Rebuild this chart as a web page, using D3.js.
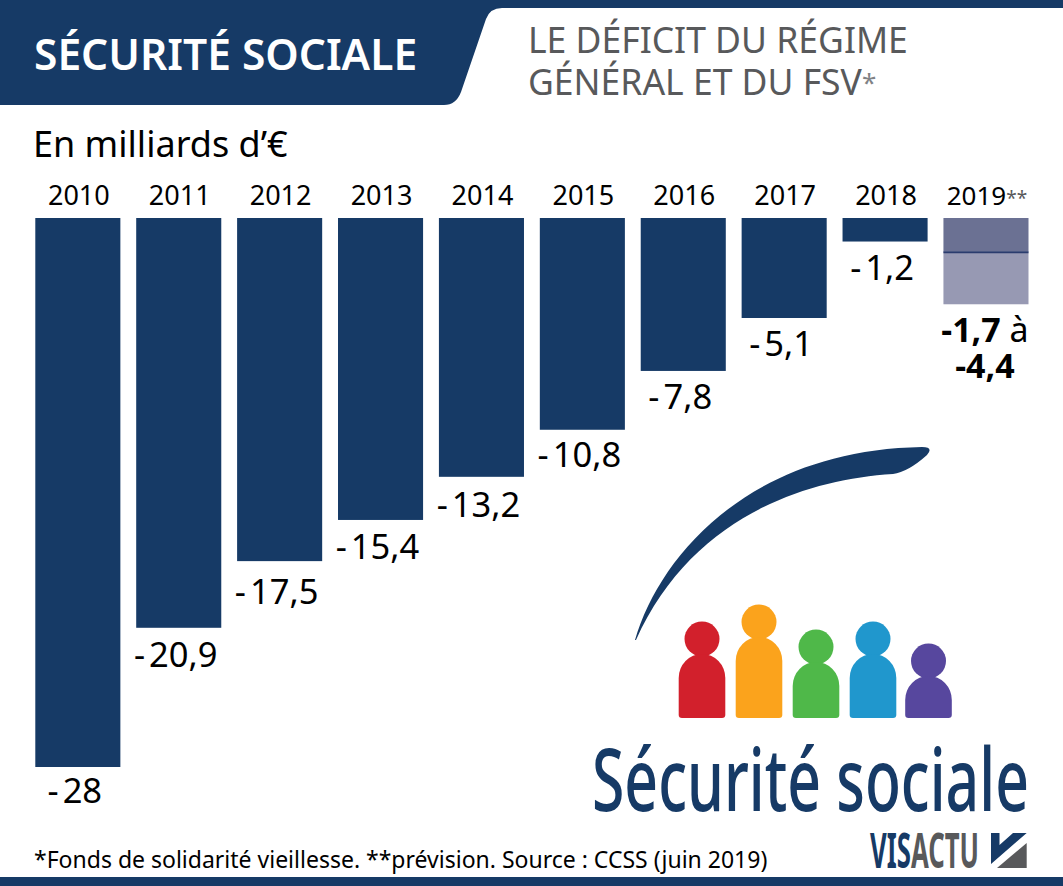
<!DOCTYPE html>
<html>
<head>
<meta charset="utf-8">
<script src="https://cdn.jsdelivr.net/npm/d3@7"></script>
<style>
  html, body { margin: 0; padding: 0; background: #fff; }
  svg { display: block; }
  text { font-family: "Noto Sans", sans-serif; }
</style>
</head>
<body>
<div id="chart"></div>
<script>
const years = ['2010', '2011', '2012', '2013', '2014', '2015', '2016', '2017', '2018'];
const values = [-28, -20.9, -17.5, -15.4, -13.2, -10.8, -7.8, -5.1, -1.2];
const valueLabels = ['28', '20,9', '17,5', '15,4', '13,2', '10,8', '7,8', '5,1', '1,2'];
const forecastYear = '2019';
const forecastLow = -1.7;
const forecastHigh = -4.4;

const navy = '#163a66';
const grey = '#58595b';
const width = 1063, height = 886;

const svg = d3.select('#chart')
  .append('svg')
  .attr('width', width)
  .attr('height', height);

// squeeze a text horizontally to a given width
function fitText(sel, left, baseline, target) {
  const len = sel.node().getComputedTextLength();
  sel.attr('transform', `translate(${left},${baseline}) scale(${target / len},1)`);
}

// header
svg.append('path')
  .attr('fill', navy)
  .attr('d', 'M0,0H1063V8H502Q490,8 486,19L461,92Q456,105 444,105H0Z');

svg.append('text')
  .attr('x', 34).attr('y', 70)
  .attr('fill', '#fff')
  .style('font-size', '42.5px')
  .style('font-weight', 600)
  .text('SÉCURITÉ SOCIALE');

svg.append('text')
  .attr('x', 528).attr('y', 53)
  .attr('fill', grey)
  .style('font-size', '35.5px')
  .text('LE DÉFICIT DU RÉGIME');

const sub2 = svg.append('text')
  .attr('x', 528).attr('y', 95)
  .attr('fill', grey)
  .style('font-size', '35.5px')
  .text('GÉNÉRAL ET DU FSV');
sub2.append('tspan').attr('fill', '#808285').style('font-size', '26px').attr('dy', -3).text('*');

svg.append('text')
  .attr('x', 33).attr('y', 157)
  .attr('fill', '#000')
  .style('font-size', '36px')
  .text('En milliards d’€');

// scales
const x = d3.scaleBand()
  .domain(years.concat(forecastYear))
  .range([35.3, 1028.5])
  .paddingInner(0.157)
  .paddingOuter(0);
const y = d3.scaleLinear().domain([0, -28]).range([218, 767]);

// year labels
const yearLabels = svg.append('g')
  .selectAll('text')
  .data(x.domain())
  .enter().append('text')
  .attr('x', d => x(d) + x.bandwidth() / 2 + 1)
  .attr('y', 205)
  .attr('text-anchor', 'middle')
  .attr('fill', '#000')
  .style('font-size', '27px')
  .text(d => d);
yearLabels.filter(d => d === forecastYear)
  .style('font-size', '26px')
  .append('tspan')
  .attr('fill', grey)
  .style('font-size', '19px')
  .text('**');

// bars
svg.append('g')
  .selectAll('rect')
  .data(years)
  .enter().append('rect')
  .attr('x', d => x(d))
  .attr('y', y(0))
  .attr('width', x.bandwidth())
  .attr('height', (d, i) => y(values[i]) - y(0))
  .attr('fill', navy);

// value labels, hand placed in the original so a few sit a bit off
const labelNudge = [-2, 1, 5, 1, 2, -1, 0, 0, 0];
const labels = svg.append('g')
  .selectAll('text')
  .data(years)
  .enter().append('text')
  .attr('x', d => x(d) + x.bandwidth() / 2 - 3)
  .attr('y', (d, i) => y(values[i]) + 38 + labelNudge[i])
  .attr('text-anchor', 'middle')
  .attr('fill', '#000')
  .style('font-size', '34.5px');
labels.append('tspan').text('-');
labels.append('tspan').attr('dx', 4).text((d, i) => valueLabels[i]);

// 2019 forecast range
const fx = x(forecastYear);
svg.append('rect')
  .attr('x', fx).attr('y', y(0))
  .attr('width', x.bandwidth())
  .attr('height', y(forecastLow) - y(0))
  .attr('fill', '#6b7193');
svg.append('rect')
  .attr('x', fx).attr('y', y(forecastLow))
  .attr('width', x.bandwidth())
  .attr('height', y(forecastHigh) - y(forecastLow))
  .attr('fill', '#9799b3');
svg.append('line')
  .attr('x1', fx).attr('x2', fx + x.bandwidth())
  .attr('y1', y(forecastLow) + 1).attr('y2', y(forecastLow) + 1)
  .attr('stroke', '#2b3c6e')
  .attr('stroke-width', 2);

const fc = fx + x.bandwidth() / 2;
const f1 = svg.append('text')
  .attr('x', fc - 1).attr('y', 342)
  .attr('text-anchor', 'middle')
  .attr('fill', '#000')
  .style('font-size', '34px');
f1.append('tspan').style('font-weight', 700).text(String(forecastLow).replace('.', ','));
f1.append('tspan').text(' à');
svg.append('text')
  .attr('x', fc - 1).attr('y', 378)
  .attr('text-anchor', 'middle')
  .attr('fill', '#000')
  .style('font-size', '34px')
  .style('font-weight', 700)
  .text(String(forecastHigh).replace('.', ','));

// logo: swoosh and people
svg.append('path')
  .attr('fill', navy)
  .attr('d', 'M635,640C660,555 750,450 922,447Q934,447 927,455Q908,472 893,474C800,480 690,520 636,640Z');

const peopleColors = ['#d2202c', '#fba31c', '#4fb849', '#2097cd', '#57479e'];
const peopleHeads = [639, 622, 647, 639, 661];
const peopleCenters = [702, 759, 816, 873, 928.5];

const person = svg.append('g')
  .selectAll('g')
  .data(peopleColors)
  .enter().append('g')
  .attr('fill', d => d);
person.append('circle')
  .attr('cx', (d, i) => peopleCenters[i])
  .attr('cy', (d, i) => peopleHeads[i])
  .attr('r', 17.5);
person.append('path')
  .attr('d', (d, i) => {
    const cx = peopleCenters[i], top = peopleHeads[i] + 15;
    return `M${cx - 23.3},${top + 24}A23.3,24 0 0 1 ${cx + 23.3},${top + 24}` +
      `V715Q${cx + 23.3},718 ${cx + 20},718H${cx - 20}Q${cx - 23.3},718 ${cx - 23.3},715Z`;
  });

svg.append('text')
  .attr('fill', navy)
  .style('font-size', '88px')
  .style('font-weight', 500)
  .text('Sécurité sociale')
  .call(fitText, 592, 811, 437);

// footer
svg.append('text')
  .attr('x', 34).attr('y', 868)
  .attr('fill', '#000')
  .style('font-size', '23px')
  .text('*Fonds de solidarité vieillesse. **prévision. Source : CCSS (juin 2019)');

const visa = svg.append('text')
  .attr('fill', grey)
  .style('font-size', '49px')
  .style('font-weight', 700);
visa.append('tspan').attr('fill', navy).text('VIS');
visa.append('tspan').text('ACTU');
visa.call(fitText, 870, 868, 109);

svg.append('path').attr('fill', navy).attr('d', 'M991,833H999.5V845L1013,833H1026.7L991,864Z');
svg.append('path').attr('fill', grey).attr('d', 'M1026.7,843V868H997Z');

// bottom band
svg.append('rect')
  .attr('x', 0).attr('y', 877)
  .attr('width', width).attr('height', 9)
  .attr('fill', navy);
</script>
</body>
</html>
